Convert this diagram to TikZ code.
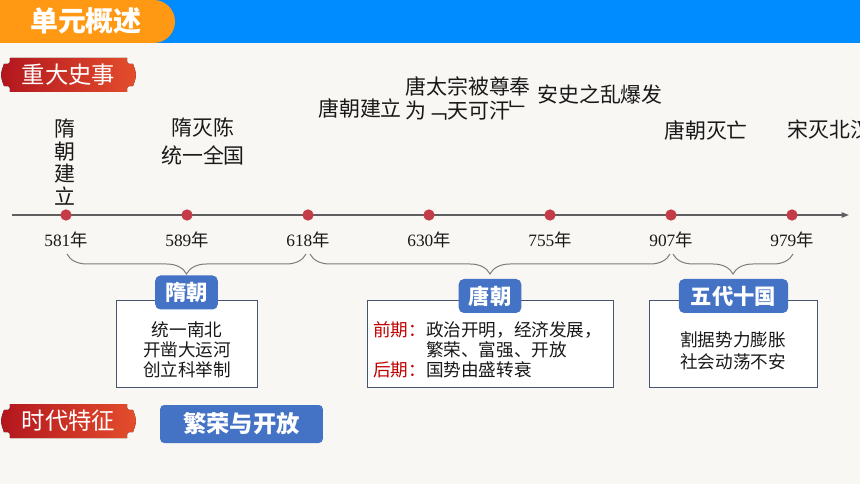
\documentclass[tikz,border=0pt]{standalone}
\usepackage{fontspec}
\setmainfont{Noto Sans CJK SC}
\newfontfamily\yearfont{Liberation Serif}
\usetikzlibrary{arrows.meta}
\usetikzlibrary{decorations.pathreplacing}

\begin{document}
\begin{tikzpicture}[x=0.75pt,y=0.75pt,yscale=-1,xscale=1,
  event/.style={anchor=center,inner sep=0.75pt,align=center,color={rgb, 255:red, 25; green, 25; blue, 25 },font=\fontsize{15.7}{18}\selectfont},
  year/.style={anchor=center,inner sep=0.75pt,color={rgb, 255:red, 25; green, 25; blue, 25 },font=\fontsize{13}{14}\selectfont},
  dot/.style={circle,inner sep=0pt,minimum size=8.5pt,fill={rgb, 255:red, 196; green, 60; blue, 72 }},
  period/.style={decorate,decoration={brace,mirror,amplitude=15pt},color={rgb, 255:red, 125; green, 125; blue, 125 },line width=0.75},
  infobox/.style={draw={rgb, 255:red, 70; green, 84; blue, 108 },fill=white,line width=0.75,inner sep=0pt},
  tab/.style={fill={rgb, 255:red, 68; green, 114; blue, 196 },rounded corners=4pt,text=white,inner sep=0pt,minimum height=25.5pt,font=\fontsize{16}{18}\selectfont\bfseries},
  boxtext/.style={inner sep=0.75pt,color={rgb, 255:red, 25; green, 25; blue, 25 },font=\fontsize{13.2}{15}\selectfont},
  early/.style={color={rgb, 255:red, 192; green, 0; blue, 0 }}
]
%Background
\useasboundingbox (0,0) rectangle (860,484);
\fill [color={rgb, 255:red, 248; green, 247; blue, 243 }] (0,0) rectangle (860,484);
%Header bar
\fill [color={rgb, 255:red, 0; green, 139; blue, 255 }] (0,0) rectangle (860,43);
\fill [color={rgb, 255:red, 255; green, 152; blue, 18 }] (0,0) [rounded corners=16pt] -- (175,0) -- (175,43) [sharp corners] -- (0,43) -- cycle;
% Text Node
\node [text=white,font=\fontsize{21}{24}\selectfont\bfseries] (title) at (86,21) {单元概述};

%Badges
\foreach \bx/\by/\btxt/\bname in {68.5/75/重大史事/events,68.5/421/时代特征/feature}{
  \fill [left color={rgb, 255:red, 178; green, 22; blue, 30 },right color={rgb, 255:red, 228; green, 78; blue, 44 }]
    (\bx-58.5,\by-17) -- (\bx+58.5,\by-17) .. controls (\bx+58.5,\by-11) .. (\bx+64.5,\by-11)
    .. controls (\bx+68.5,\by) .. (\bx+64.5,\by+11) .. controls (\bx+58.5,\by+11) .. (\bx+58.5,\by+17)
    -- (\bx-58.5,\by+17) .. controls (\bx-58.5,\by+11) .. (\bx-64.5,\by+11)
    .. controls (\bx-68.5,\by) .. (\bx-64.5,\by-11) .. controls (\bx-58.5,\by-11) .. (\bx-58.5,\by-17) -- cycle;
  \node [text=white,font=\fontsize{17.5}{20}\selectfont] (\bname) at (\bx,\by) {\btxt};
}

%Timeline
\coordinate (tstart) at (12,215);
\coordinate (tend) at (849,215);
\draw [color={rgb, 255:red, 95; green, 95; blue, 95 },line width=1,-{Triangle[length=5.5pt,width=4pt]}] (tstart) -- (tend);
\foreach \yr/\x in {581/66,589/187,618/308,630/429,755/550,907/671,979/792}{
  \node [dot] (d\yr) at (\x,215) {};
  \node [year] (y\yr) at (\x,240) {{\yearfont\yr}年};
}

% Text Node
\node [event,font=\fontsize{15.7}{17}\selectfont] (eSui) at (65,162) {隋\\朝\\建\\立};
% Text Node
\node [event,font=\fontsize{15.7}{21}\selectfont] (eChen) at (203,141) {隋灭陈\\统一全国};
% Text Node
\node [event] (eTang) at (360,108) {唐朝建立};
% Text Node
\node [event,anchor=west,align=left] (eKhan) at (404,98) {唐太宗被尊奉\\为﹁天可汗﹂};
% Text Node
\node [event] (eAnshi) at (600,95) {安史之乱爆发};
% Text Node
\node [event] (eFall) at (706,130) {唐朝灭亡};
% Text Node
\node [event,anchor=west] (eSong) at (786,130) {宋灭北汉};

%Braces
\coordinate (s581) at (67,254);
\coordinate (e618) at (306,254);
\coordinate (s618) at (310,254);
\coordinate (e907) at (670,254);
\coordinate (s907) at (673,254);
\coordinate (e979) at (793,254);
\draw [period] (s581) -- (e618);
\draw [period] (s618) -- (e907);
\draw [period] (s907) -- (e979);

%Boxes
\node [infobox,minimum width=105.75pt,minimum height=65.25pt] (boxSui) at (186.5,344.5) {};
\node [infobox,minimum width=184.5pt,minimum height=65.25pt] (boxTang) at (490,344.5) {};
\node [infobox,minimum width=126pt,minimum height=65.25pt] (boxFive) at (733,344.5) {};
\node [tab,minimum width=47pt] (tabSui) at (186.5,292.5) {隋朝};
\node [tab,minimum width=47pt] (tabTang) at (490,296) {唐朝};
\node [tab,minimum width=82pt] (tabFive) at (733.5,296) {五代十国};

% Text Node
\node [boxtext,align=center] (txtSui) at (187,350) {统一南北\\开凿大运河\\创立科举制};
% Text Node
\node [boxtext,align=left,anchor=west] (txtTang) at (372,350) {\textcolor[RGB]{192,0,0}{前期：}政治开明，经济发展，\\\phantom{前期：}繁荣、富强、开放\\\textcolor[RGB]{192,0,0}{后期：}国势由盛转衰};
% Text Node
\node [boxtext,align=center,font=\fontsize{13.2}{16.5}\selectfont] (txtFive) at (733,351) {割据势力膨胀\\社会动荡不安};

%Feature
\node [fill={rgb, 255:red, 68; green, 114; blue, 196 },rounded corners=3pt,text=white,minimum width=122pt,minimum height=28.5pt,inner sep=0pt,font=\fontsize{17.5}{20}\selectfont\bfseries] (open) at (241.5,424) {繁荣与开放};

\end{tikzpicture}
\end{document}
